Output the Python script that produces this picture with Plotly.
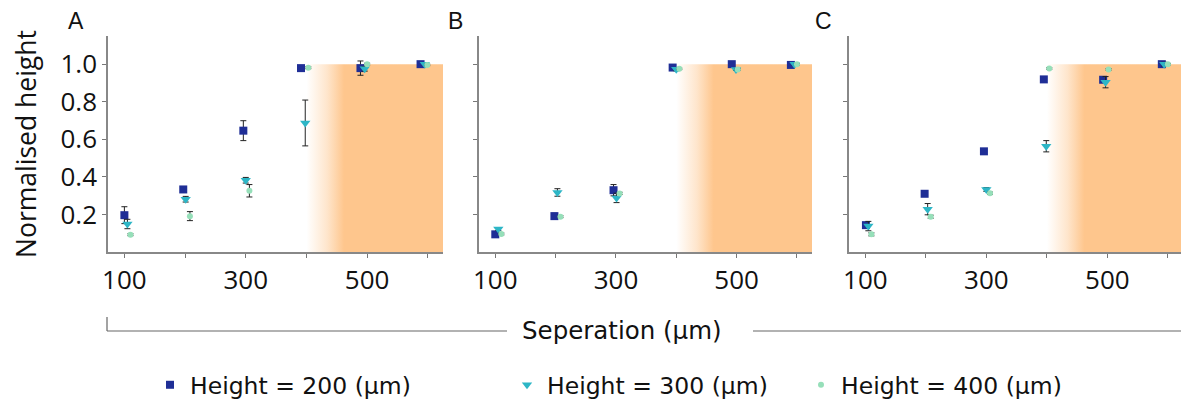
import plotly.graph_objects as go

# ---------------- data ----------------
panels = ["A", "B", "C"]
legend_names = ["Height = 200 (µm)", "Height = 300 (µm)", "Height = 400 (µm)"]

# Panel A
a_h200_x = [100, 197, 296, 391, 489, 588]
a_h200_y = [0.196, 0.333, 0.646, 0.979, 0.979, 1.0]
a_h200_e = [0.045, 0.008, 0.053, 0.005, 0.038, 0.005]
a_h300_x = [105, 201, 300, 398, 496, 595]
a_h300_y = [0.149, 0.281, 0.382, 0.687, 0.975, 1.0]
a_h300_e = [0.025, 0.015, 0.015, 0.122, 0.012, 0.004]
a_h400_x = [110, 208, 306, 403, 500, 599]
a_h400_y = [0.092, 0.191, 0.326, 0.981, 1.0, 0.996]
a_h400_e = [0.005, 0.024, 0.033, 0.005, 0.005, 0.004]

# Panel B
b_h200_x = [100, 198, 296, 394, 492, 590]
b_h200_y = [0.094, 0.191, 0.329, 0.982, 1.0, 0.996]
b_h200_e = [0.008, 0.015, 0.03, 0.005, 0.005, 0.005]
b_h300_x = [105, 203, 301, 400, 499, 596]
b_h300_y = [0.122, 0.317, 0.288, 0.973, 0.972, 1.0]
b_h300_e = [0.008, 0.02, 0.025, 0.008, 0.005, 0.005]
b_h400_x = [110, 208, 306, 405, 502, 600]
b_h400_y = [0.096, 0.188, 0.312, 0.975, 0.972, 1.0]
b_h400_e = [0.005, 0.005, 0.006, 0.004, 0.004, 0.004]

# Panel C
c_h200_x = [101, 198, 296, 395, 493, 590]
c_h200_y = [0.143, 0.310, 0.536, 0.919, 0.917, 1.0]
c_h200_e = [0.008, 0.006, 0.006, 0.006, 0.008, 0.01]
c_h300_x = [105, 203, 300, 399, 497, 594]
c_h300_y = [0.138, 0.228, 0.333, 0.563, 0.904, 1.0]
c_h300_e = [0.025, 0.03, 0.01, 0.03, 0.03, 0.01]
c_h400_x = [110, 208, 306, 404, 502, 600]
c_h400_y = [0.094, 0.188, 0.313, 0.977, 0.972, 1.0]
c_h400_e = [0.008, 0.008, 0.006, 0.004, 0.004, 0.004]

# shaded "saturated" region
shade_x0 = 400
shade_full = 462
shade_x1 = 625
shade_top = 1.0

x_ticks = [100, 200, 300, 400, 500, 600]
x_ticktext = ["100", "", "300", "", "500", ""]
y_ticks = [0.2, 0.4, 0.6, 0.8, 1.0]
y_ticktext = ["0.2", "0.4", "0.6", "0.8", "1.0"]

# ---------------- styling ----------------
colors = ["#1f2e96", "#2db6c6", "#96dfb9"]
symbols = ["square", "triangle-down", "circle"]
sizes = [8, 9, 6]
orange = "254,198,141"

series = [
    [(a_h200_x, a_h200_y, a_h200_e), (a_h300_x, a_h300_y, a_h300_e), (a_h400_x, a_h400_y, a_h400_e)],
    [(b_h200_x, b_h200_y, b_h200_e), (b_h300_x, b_h300_y, b_h300_e), (b_h400_x, b_h400_y, b_h400_e)],
    [(c_h200_x, c_h200_y, c_h200_e), (c_h300_x, c_h300_y, c_h300_e), (c_h400_x, c_h400_y, c_h400_e)],
]

# page has an 8px body margin: lay out in window pixels, shifted
OFF = 8
W, H = 1189 - OFF, 408 - OFF


def px(rx):
    return (rx - OFF) / W


def py(ry):
    return 1 - (ry - OFF) / H


xdoms = [(108, 443), (479, 812), (849, 1183)]
ytop, ybot = 36, 252

fig = go.Figure()
ramp = (shade_full - shade_x0) / (shade_x1 - shade_x0)

for p in range(3):
    xa = "x" if p == 0 else f"x{p+1}"
    ya = "y" if p == 0 else f"y{p+1}"
    fig.add_trace(go.Scatter(
        x=[shade_x0, shade_x1, shade_x1, shade_x0, shade_x0],
        y=[0, 0, shade_top, shade_top, 0],
        mode="lines", line=dict(width=0), fill="toself",
        fillcolor=f"rgba({orange},1)",
        fillgradient=dict(
            type="horizontal", start=shade_x0, stop=shade_x1,
            colorscale=[[0, f"rgba({orange},0)"],
                        [ramp * 0.55, f"rgba({orange},0.45)"],
                        [ramp * 0.8, f"rgba({orange},0.75)"],
                        [ramp, f"rgba({orange},1)"],
                        [1, f"rgba({orange},1)"]]),
        hoverinfo="skip", showlegend=False, xaxis=xa, yaxis=ya))
    for s in range(3):
        xs, ys, es = series[p][s]
        fig.add_trace(go.Scatter(
            x=xs, y=ys, mode="markers",
            name=legend_names[s],
            marker=dict(symbol=symbols[s], size=sizes[s], color=colors[s],
                        line=dict(width=0)),
            error_y=dict(type="data", array=es, visible=True,
                         color="#222222", thickness=1, width=3),
            showlegend=(p == 0),
            legend="legend" if s == 0 else f"legend{s+1}",
            xaxis=xa, yaxis=ya))

layout = dict(
    width=W, height=H,
    margin=dict(l=0, r=0, t=0, b=0, autoexpand=False),
    paper_bgcolor="white", plot_bgcolor="white",
    font=dict(family="Open Sans", size=24, color="#111111"),
)

for p in range(3):
    xk = "xaxis" if p == 0 else f"xaxis{p+1}"
    yk = "yaxis" if p == 0 else f"yaxis{p+1}"
    x0, x1 = xdoms[p]
    layout[xk] = dict(
        domain=[px(x0), px(x1)], range=[73, 625],
        anchor="y" if p == 0 else f"y{p+1}",
        tickvals=x_ticks, ticktext=x_ticktext,
        ticks="outside", ticklen=4, tickcolor="#777777",
        showline=True, linecolor="#888888", linewidth=1.5,
        showgrid=False, zeroline=False,
        tickfont=dict(family="Open Sans", size=26, color="#111111"),
    )
    layout[yk] = dict(
        domain=[py(ybot), py(ytop)], range=[0, 1.15],
        anchor="x" if p == 0 else f"x{p+1}",
        tickvals=y_ticks, ticktext=y_ticktext if p == 0 else ["", "", "", "", ""],
        ticks="outside", ticklen=4, tickcolor="#777777",
        showline=True, linecolor="#888888", linewidth=1.5,
        showgrid=False, zeroline=False,
        tickfont=dict(family="Open Sans", size=26, color="#111111"),
    )
layout["yaxis"]["title"] = dict(text="Normalised height", standoff=17,
                                font=dict(family="Open Sans", size=26.5, color="#111111"))

legend_left = [150, 507, 801]
for s in range(3):
    key = "legend" if s == 0 else f"legend{s+1}"
    layout[key] = dict(
        orientation="h", x=px(legend_left[s]), xanchor="left",
        y=py(385), yanchor="middle",
        bgcolor="rgba(0,0,0,0)", borderwidth=0,
        font=dict(family="DejaVu Sans", size=23.5, color="#111111"),
    )

fig.update_layout(**layout)

letter_x = [76, 455, 823]
for p in range(3):
    fig.add_annotation(text=panels[p], x=px(letter_x[p]), y=py(21),
                       xref="paper", yref="paper", showarrow=False,
                       xanchor="center", yanchor="middle",
                       font=dict(family="Liberation Sans", size=23, color="#111111"))

fig.add_annotation(text="Seperation (µm)", x=px(622), y=py(330),
                   xref="paper", yref="paper", showarrow=False,
                   xanchor="center", yanchor="middle",
                   font=dict(family="DejaVu Sans", size=24.5, color="#111111"))
br_y = py(331)
br_top = py(317)
lc = dict(color="#666666", width=1.2)
for (xa, ya, xb, yb) in [(107, br_y, 507, br_y), (753, br_y, 1182, br_y),
                         (107, br_y, 107, br_top), (1182, br_y, 1182, br_top)]:
    fig.add_shape(type="line", xref="paper", yref="paper",
                  x0=px(xa), y0=ya, x1=px(xb), y1=yb, line=lc)

fig.write_html("out.html")
